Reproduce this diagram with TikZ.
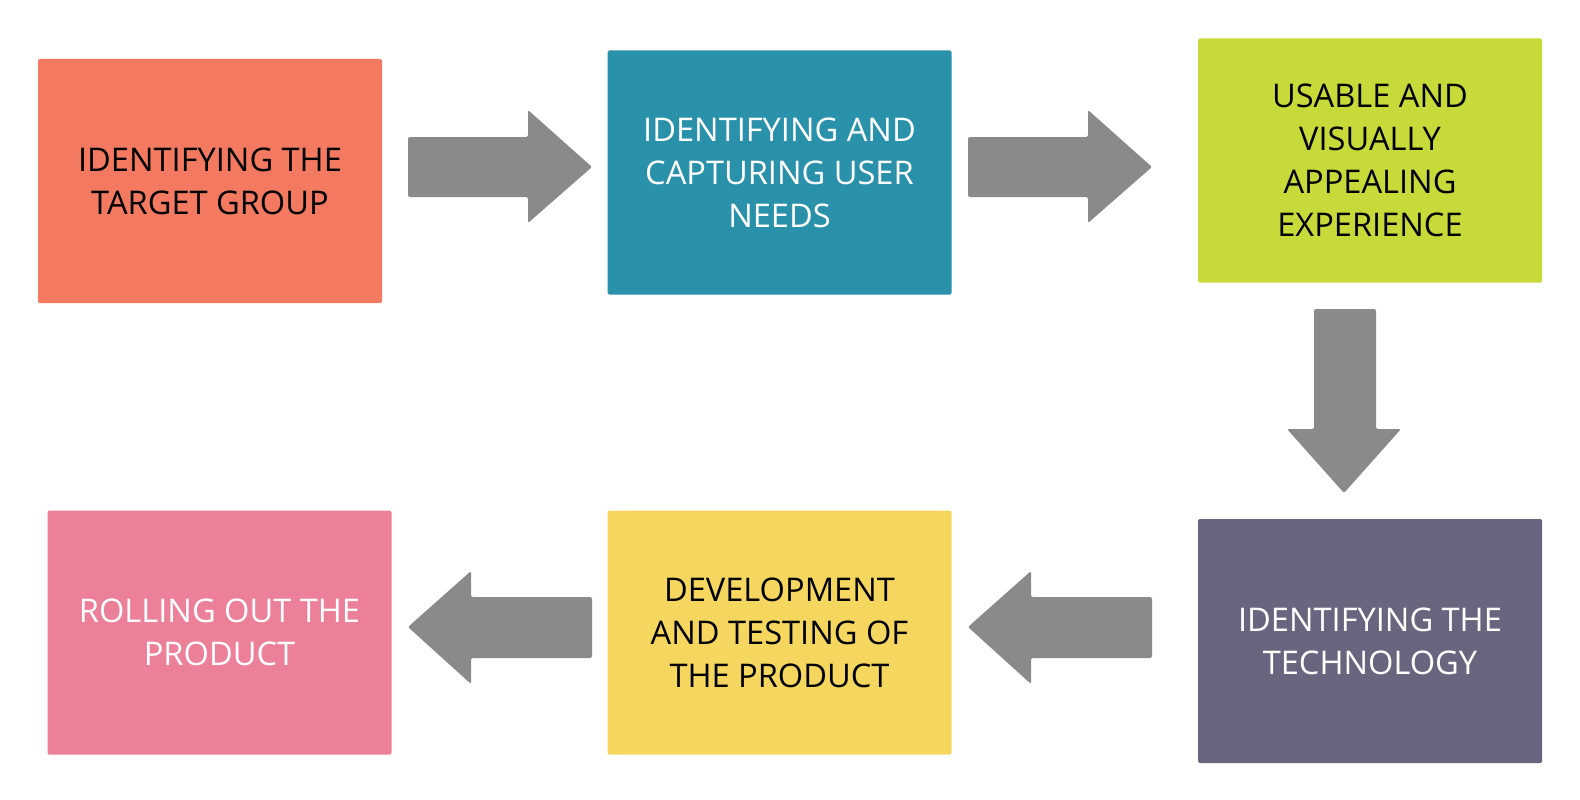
\documentclass[tikz,border=0pt]{standalone}
\usepackage{fontspec}
\setmainfont{Open Sans}
\definecolor{coral}{HTML}{F37960}
\definecolor{teal}{HTML}{2A91AB}
\definecolor{lime}{HTML}{C8D93A}
\definecolor{slate}{HTML}{68667E}
\definecolor{sun}{HTML}{F5D760}
\definecolor{rose}{HTML}{EC8099}
\definecolor{arrowgrey}{HTML}{8A8A8A}
\tikzset{
  stepbox/.style={rectangle, rounded corners=1.5pt, minimum width=344pt, minimum height=244pt,
    align=center, inner sep=0pt, font=\fontsize{32.6}{43}\selectfont},
  blockarrow/.style={fill=arrowgrey, rounded corners=2pt},
}
\begin{document}
\begin{tikzpicture}[x=1pt,y=-1pt]
\useasboundingbox (0,0) rectangle (1580,800);
\node[stepbox, fill=coral, text=black] (b1) at (210,181) {IDENTIFYING THE\\TARGET GROUP};
\node[stepbox, fill=teal, text=white] (b2) at (779.5,172.5) {IDENTIFYING AND\\CAPTURING USER\\NEEDS};
\node[stepbox, fill=lime, text=black] (b3) at (1370,160.5) {USABLE AND\\VISUALLY\\APPEALING\\EXPERIENCE};
\node[stepbox, fill=slate, text=white] (b4) at (1370,641) {IDENTIFYING THE\\TECHNOLOGY};
\node[stepbox, fill=sun, text=black] (b5) at (779.5,632.5) {DEVELOPMENT\\AND TESTING OF\\THE PRODUCT};
\node[stepbox, fill=rose, text=white] (b6) at (219.5,632.5) {ROLLING OUT THE\\PRODUCT};
% right arrows
\fill[blockarrow] (408,137) -- (528,137) -- (528,110) -- (592,167) -- (528,223) -- (528,197) -- (408,197) -- cycle;
\fill[blockarrow] (968,137) -- (1088,137) -- (1088,110) -- (1152,167) -- (1088,223) -- (1088,197) -- (968,197) -- cycle;
% down arrow
\fill[blockarrow] (1314,309) -- (1376,309) -- (1376,429) -- (1401,429) -- (1344,493) -- (1287,429) -- (1314,429) -- cycle;
% left arrows
\fill[blockarrow] (1152,597) -- (1031,597) -- (1031,571) -- (968,627) -- (1031,684) -- (1031,658) -- (1152,658) -- cycle;
\fill[blockarrow] (592,597) -- (471,597) -- (471,571) -- (408,627) -- (471,684) -- (471,658) -- (592,658) -- cycle;
\end{tikzpicture}
\end{document}
